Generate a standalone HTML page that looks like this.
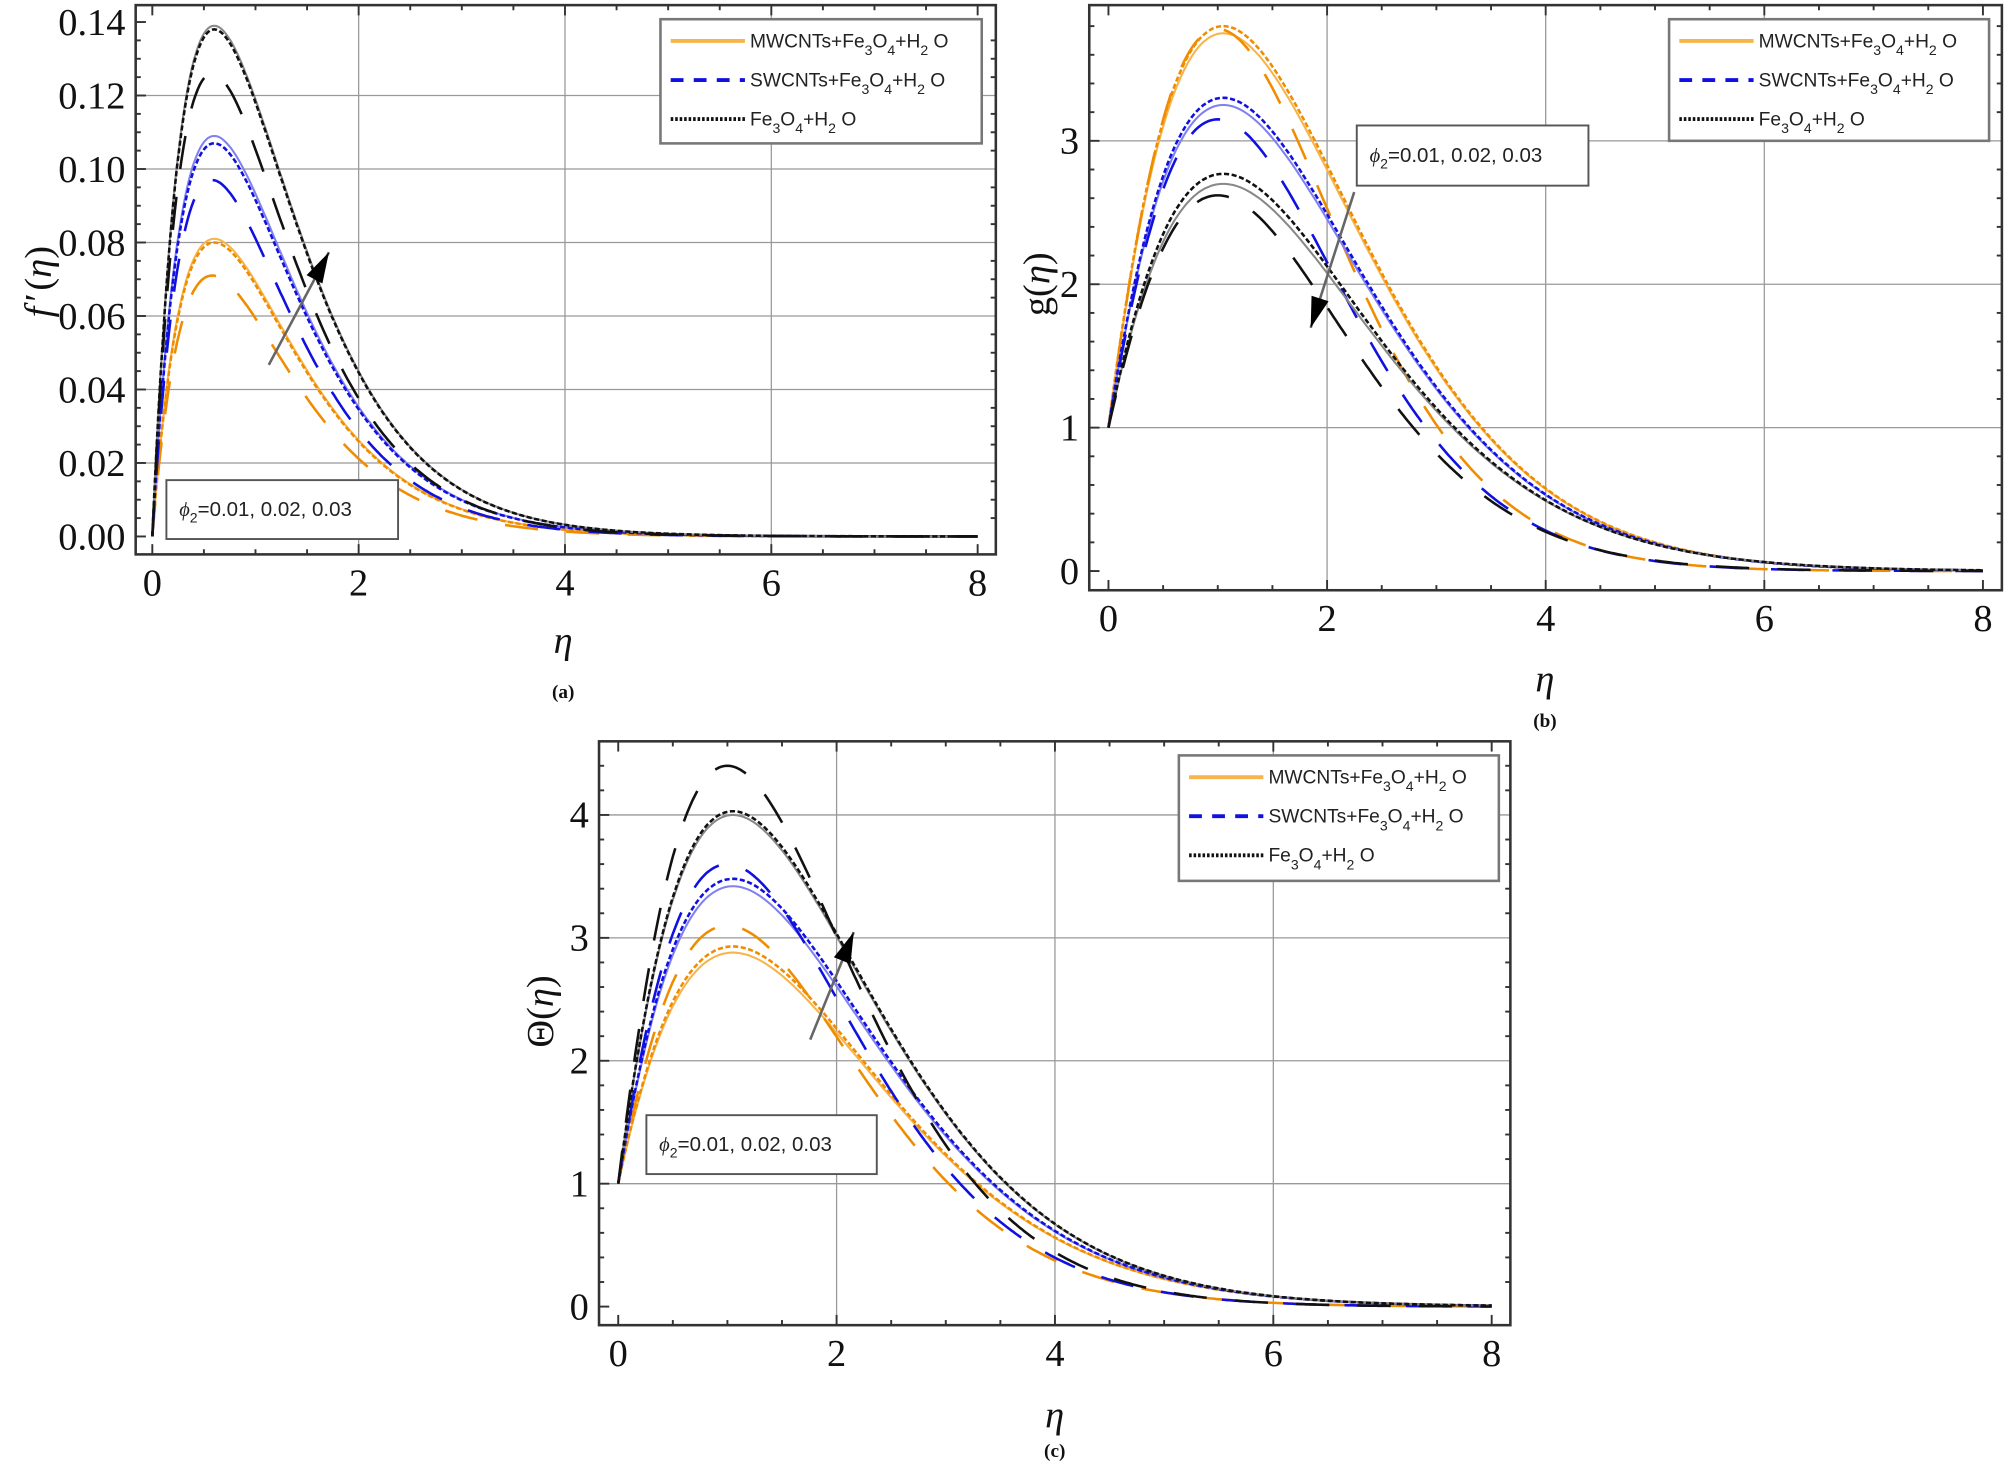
<!DOCTYPE html>
<html><head><meta charset="utf-8">
<style>html,body{margin:0;padding:0;background:#fff;}svg{display:block}</style>
</head><body>
<svg id="s" width="2007" height="1466" viewBox="0 0 1568 1145" preserveAspectRatio="none" xmlns="http://www.w3.org/2000/svg">
<rect width="1568" height="1145" fill="#fff"/>
<g id="g"></g>
<g font-family="Liberation Serif, serif" fill="#111">
<text x="440" y="510" font-size="30" font-style="italic" text-anchor="middle">η</text>
<text x="440" y="545" font-size="15" font-weight="bold" text-anchor="middle">(a)</text>
<text x="1207" y="540" font-size="30" font-style="italic" text-anchor="middle">η</text>
<text x="1207" y="568" font-size="15" font-weight="bold" text-anchor="middle">(b)</text>
<text x="824" y="1115" font-size="30" font-style="italic" text-anchor="middle">η</text>
<text x="824" y="1138" font-size="15" font-weight="bold" text-anchor="middle">(c)</text>
<text transform="translate(40,220) rotate(-90)" font-size="30" text-anchor="middle"><tspan font-style="italic">f</tspan><tspan dx="4">′</tspan><tspan dx="2">(</tspan><tspan font-style="italic">η</tspan>)</text>
<text transform="translate(820,222) rotate(-90)" font-size="30" text-anchor="middle">g(<tspan font-style="italic">η</tspan>)</text>
<text transform="translate(432,790) rotate(-90)" font-size="30" text-anchor="middle">Θ(<tspan font-style="italic">η</tspan>)</text>
</g>
</svg>
<script>
const NS="http://www.w3.org/2000/svg",G=document.getElementById('g');
function el(t,a,p){const e=document.createElementNS(NS,t);for(const k in a)e.setAttribute(k,a[k]);(p||G).appendChild(e);return e;}
function txt(x,y,s,a){const e=el('text',Object.assign({x:x,y:y},a));e.innerHTML=s;return e;}
const OR='#f08c00',ORL='#f7b44a',BL='#1010e0',BLL='#8080f0',BK='#111',BKL='#888';
function panel(P){
 const X=v=>P.x0+(v)*P.sx, Y=v=>P.y0-(v-P.ymin0)*P.sy;
 for(const v of [2,4,6]) el('line',{x1:X(v),x2:X(v),y1:P.top,y2:P.bot,stroke:'#999','stroke-width':1});
 for(const v of P.gy) el('line',{x1:P.left,x2:P.right,y1:Y(v),y2:Y(v),stroke:'#999','stroke-width':1});
 for(const c of P.curves){
  let d='';for(let i=0;i<=400;i++){const t=8*i/400;d+=(i?'L':'M')+X(t).toFixed(1)+','+Y(c.f(t)).toFixed(1);}
  const a={d:d,fill:'none',stroke:c.col,'stroke-width':c.w||2};if(c.da)a['stroke-dasharray']=c.da;el('path',a);
 }
 el('rect',{x:P.left,y:P.top,width:P.right-P.left,height:P.bot-P.top,fill:'none',stroke:'#333','stroke-width':2});
 for(let v=0;v<=8.001;v+=0.5){const L=(Math.abs(v-Math.round(v/2)*2)<1e-6)?8:4;
  el('line',{x1:X(v),x2:X(v),y1:P.bot,y2:P.bot-L,stroke:'#333','stroke-width':1.5});
  el('line',{x1:X(v),x2:X(v),y1:P.top,y2:P.top+L,stroke:'#333','stroke-width':1.5});}
 for(const v of P.minor){el('line',{x1:P.left,x2:P.left+4,y1:Y(v),y2:Y(v),stroke:'#333','stroke-width':1.5});
  el('line',{x1:P.right,x2:P.right-4,y1:Y(v),y2:Y(v),stroke:'#333','stroke-width':1.5});}
 for(const v of P.major){el('line',{x1:P.left,x2:P.left+8,y1:Y(v),y2:Y(v),stroke:'#333','stroke-width':1.5});
  txt(P.left-8,Y(v)+10,P.fmt(v),{'font-family':'Liberation Serif, serif','font-size':30,'text-anchor':'end',fill:'#111'});}
 for(const v of [0,2,4,6,8]) txt(X(v),P.bot+32,v,{'font-family':'Liberation Serif, serif','font-size':30,'text-anchor':'middle',fill:'#111'});
 const Lg=P.leg;el('rect',{x:Lg[0],y:Lg[1],width:Lg[2],height:Lg[3],fill:'#fff',stroke:'#777','stroke-width':2});
 const sub='<tspan dy="6" font-size="11">';
 const rows=[['MWCNTs+Fe'+sub+'3</tspan><tspan dy="-6">O</tspan>'+sub+'4</tspan><tspan dy="-6">+H</tspan>'+sub+'2</tspan><tspan dy="-6"> O</tspan>',ORL,null],
 ['SWCNTs+Fe'+sub+'3</tspan><tspan dy="-6">O</tspan>'+sub+'4</tspan><tspan dy="-6">+H</tspan>'+sub+'2</tspan><tspan dy="-6"> O</tspan>',BL,'10,8'],
 ['Fe'+sub+'3</tspan><tspan dy="-6">O</tspan>'+sub+'4</tspan><tspan dy="-6">+H</tspan>'+sub+'2</tspan><tspan dy="-6"> O</tspan>',BK,'2,1.5']];
 rows.forEach((r,i)=>{const yy=Lg[1]+17+i*30.5;const a={x1:Lg[0]+8,x2:Lg[0]+66,y1:yy,y2:yy,stroke:r[1],'stroke-width':3};if(r[2])a['stroke-dasharray']=r[2];el('line',a);
  txt(Lg[0]+70,yy+5,r[0],{'font-family':'Liberation Sans, sans-serif','font-size':15,fill:'#222'});});
 const A=P.ann;el('rect',{x:A[0],y:A[1],width:A[2],height:A[3],fill:'#fff',stroke:'#555','stroke-width':1.5});
 txt(A[0]+10,A[1]+A[3]/2+5,'<tspan font-family="Liberation Serif, serif" font-style="italic">ϕ</tspan><tspan dy="5" font-size="11">2</tspan><tspan dy="-5">=0.01, 0.02, 0.03</tspan>',{'font-family':'Liberation Sans, sans-serif','font-size':16,fill:'#222'});
 const [x1,y1,x2,y2]=P.arr;el('line',{x1:x1,y1:y1,x2:x2,y2:y2,stroke:'#666','stroke-width':2});
 const ang=Math.atan2(y2-y1,x2-x1),L=24,W=7;
 const bx=x2-L*Math.cos(ang),by=y2-L*Math.sin(ang);
 el('polygon',{points:`${x2},${y2} ${bx+W*Math.sin(ang)},${by-W*Math.cos(ang)} ${bx-W*Math.sin(ang)},${by+W*Math.cos(ang)}`,fill:'#000'});
}
function fa(A,p){return t=>A*(t/p)*Math.exp(1-t/p);}
function mk(q){return function(pk,p){
 const val=a=>(1+a*p)*Math.exp(-a*p/(q*(1+a*p)));
 let lo=0.01,hi=500;for(let i=0;i<80;i++){const a=(lo+hi)/2;if(val(a)<pk)lo=a;else hi=a;}
 const a=(lo+hi)/2,b=a/((1+a*p)*q*Math.pow(p,q-1));return t=>(1+a*t)*Math.exp(-b*Math.pow(t,q));};}
function set(vals,F,F2,ps){const cols=[[ORL,OR,OR],[BLL,BL,BL],[BKL,BK,BK]];const out=[];
 vals.forEach((v,i)=>{out.push({f:F(v[0],ps[0]),col:cols[i][0],w:1.6});out.push({f:F(v[1],ps[1]),col:cols[i][1],da:'4,2',w:2});out.push({f:F2(v[2],ps[2]),col:cols[i][2],da:'26,22',w:2});});return out;}
panel({x0:119,sx:80.6,y0:419,ymin0:0,sy:2870,left:106,right:778,top:4,bot:433,
 gy:[0.02,0.04,0.06,0.08,0.10,0.12],major:[0,0.02,0.04,0.06,0.08,0.10,0.12,0.14],minor:[0.005,0.01,0.015,0.025,0.03,0.035,0.045,0.05,0.055,0.065,0.07,0.075,0.085,0.09,0.095,0.105,0.11,0.115,0.125,0.13,0.135],
 fmt:v=>v.toFixed(2),curves:set([[0.081,0.080,0.071],[0.109,0.107,0.097],[0.139,0.138,0.126]],fa,fa,[0.6,0.6,0.58]),
 leg:[516,15,251,97],ann:[130,375,181,46],arr:[210,285,257,197]});
panel({x0:866,sx:85.4,y0:446,ymin0:0,sy:112,left:851,right:1564,top:4,bot:461,
 gy:[1,2,3],major:[0,1,2,3],minor:[0.2,0.4,0.6,0.8,1.2,1.4,1.6,1.8,2.2,2.4,2.6,2.8,3.2,3.4,3.6,3.8],
 fmt:v=>v,curves:set([[3.75,3.8,3.78],[3.25,3.3,3.15],[2.7,2.77,2.62]],mk(1.3),mk(1.45),[1.05,1.05,1.0]),
 leg:[1304,15,250,95],ann:[1060,98,181,47],arr:[1058,150,1024,256]});
panel({x0:483,sx:85.3,y0:1020.5,ymin0:0,sy:96,left:468,right:1180,top:579,bot:1035,
 gy:[1,2,3,4],major:[0,1,2,3,4],minor:[0.2,0.4,0.6,0.8,1.2,1.4,1.6,1.8,2.2,2.4,2.6,2.8,3.2,3.4,3.6,3.8,4.2,4.4],
 fmt:v=>v,curves:set([[2.88,2.93,3.1],[3.42,3.48,3.6],[4.0,4.03,4.4]],mk(1.25),mk(1.35),[1.05,1.05,1.0]),
 leg:[921,590,250,98],ann:[505,871,180,46],arr:[633,812,667,728]});
</script>
</body></html>
